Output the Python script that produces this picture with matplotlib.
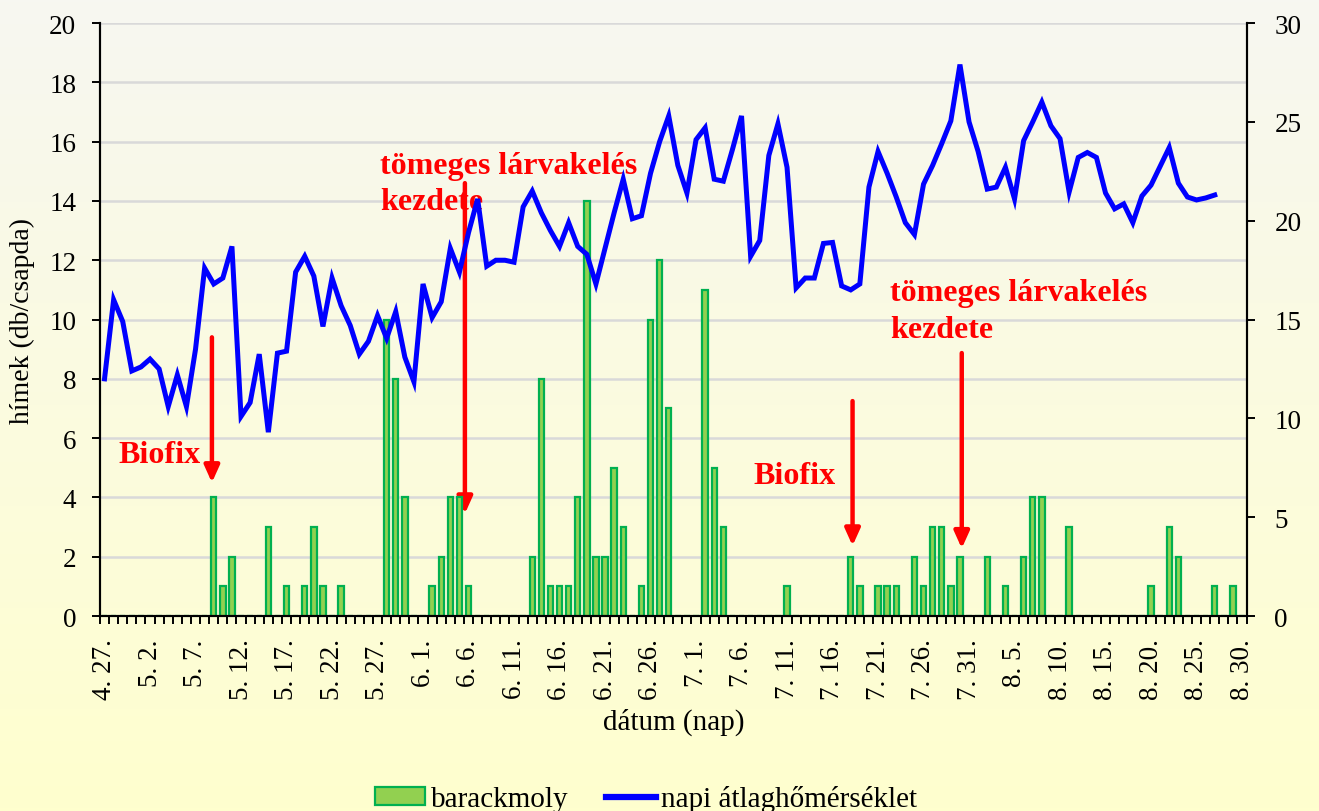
import numpy as np
import pandas as pd
import matplotlib
matplotlib.use('Agg')
import matplotlib.pyplot as plt
from matplotlib.patches import Patch
from matplotlib.lines import Line2D

plt.rcParams['font.family'] = ['Liberation Serif', 'DejaVu Serif']

# days 4.27 .. 8.30
days = pd.date_range('2013-04-27', '2013-08-30')

tick_labels = ["4. 27.", "5. 2.", "5. 7.", "5. 12.", "5. 17.", "5. 22.", "5. 27.",
               "6. 1.", "6. 6.", "6. 11.", "6. 16.", "6. 21.", "6. 26.", "7. 1.",
               "7. 6.", "7. 11.", "7. 16.", "7. 21.", "7. 26.", "7. 31.", "8. 5.",
               "8. 10.", "8. 15.", "8. 20.", "8. 25.", "8. 30."]

# barackmoly catches (males per trap)
catch_dates = ["05-09", "05-10", "05-11", "05-15", "05-17", "05-19", "05-20", "05-21",
               "05-23", "05-28", "05-29", "05-30", "06-02", "06-03", "06-04", "06-05",
               "06-06", "06-13", "06-14", "06-15", "06-16", "06-17", "06-18", "06-19",
               "06-20", "06-21", "06-22", "06-23", "06-25", "06-26", "06-27", "06-28",
               "07-02", "07-03", "07-04", "07-11", "07-18", "07-19", "07-21", "07-22",
               "07-23", "07-25", "07-26", "07-27", "07-28", "07-29", "07-30", "08-02",
               "08-04", "08-06", "08-07", "08-08", "08-11", "08-20", "08-22", "08-23",
               "08-27", "08-29"]
catch_counts = [4, 1, 2, 3, 1, 1, 3, 1,
                1, 10, 8, 4, 1, 2, 4, 4,
                1, 2, 8, 1, 1, 1, 4, 14,
                2, 2, 5, 3, 1, 10, 12, 7,
                11, 5, 3, 1, 2, 1, 1, 1,
                1, 2, 1, 3, 3, 1, 2, 2,
                1, 2, 4, 4, 3, 1, 3, 2,
                1, 1]

# napi átlaghőmérséklet, 4.27 .. 8.27
temps = [12.0, 16.0, 14.9, 12.4, 12.6, 13.0, 12.5, 10.6, 12.2, 10.6,
         13.5, 17.6, 16.8, 17.1, 18.7, 10.1, 10.8, 13.25, 9.3, 13.3,
         13.4, 17.4, 18.2, 17.2, 14.65, 17.1, 15.7, 14.7, 13.25, 13.9,
         15.2, 14.05, 15.4, 13.1, 11.85, 16.8, 15.1, 15.9, 18.6, 17.4,
         19.4, 21.1, 17.7, 18.0, 18.0, 17.9, 20.7, 21.5, 20.4, 19.5,
         18.7, 19.9, 18.7, 18.3, 16.8, 18.6, 20.4, 22.1, 20.1, 20.25,
         22.4, 24.0, 25.3, 22.8, 21.4, 24.1, 24.7, 22.1, 22.0, 23.6,
         25.3, 18.2, 19.0, 23.3, 24.9, 22.7, 16.6, 17.1, 17.1, 18.85,
         18.9, 16.7, 16.5, 16.8, 21.7, 23.5, 22.4, 21.2, 19.9, 19.3,
         21.85, 22.8, 23.9, 25.05, 27.9, 25.0, 23.5, 21.6, 21.7, 22.7,
         21.1, 24.05, 25.0, 26.0, 24.8, 24.15, 21.45, 23.2, 23.45, 23.2,
         21.4, 20.6, 20.85, 19.9, 21.25, 21.8, 22.75, 23.7, 21.9, 21.2,
         21.05, 21.15, 21.3]

day_keys = list(days.strftime('%m-%d'))
counts = np.zeros(len(days))
for d, c in zip(catch_dates, catch_counts):
    counts[day_keys.index(d)] = c
x = np.arange(len(days))

fig = plt.figure(figsize=(13.19, 8.12), dpi=100)

# background gradient
bg = fig.add_axes([0, 0, 1, 1], zorder=-5)
top = np.array([247, 247, 241]) / 255
bot = np.array([255, 255, 206]) / 255
t = np.linspace(0, 1, 256)[:, None]
grad = top[None, :] * (1 - t) + bot[None, :] * t
bg.imshow(grad[:, None, :], aspect='auto', extent=[0, 1, 0, 1])
bg.axis('off')

ax = fig.add_axes([0.0758, 0.2401, 0.8693, 0.7303])
ax.set_facecolor('none')
ax.bar(x, counts, width=0.6, color='#92D050', edgecolor='#00B050', linewidth=1.6, zorder=2)
ax.set_ylim(0, 20)
ax.set_xlim(-0.5, len(days) - 0.5)
ax.set_yticks(np.arange(0, 21, 2))
ax.yaxis.grid(True, color='#D9D9D9', linewidth=1.8, zorder=0)
ax.set_axisbelow(True)

ax.set_xticks(x[::5])
ax.set_xticklabels(tick_labels, rotation=90, fontsize=19.5)
ax.set_xticks(np.arange(-0.5, len(days), 1), minor=True)
ax.tick_params(axis='x', which='major', length=0, pad=16)
ax.tick_params(axis='x', which='minor', length=6, width=1.4, direction='out')
ax.tick_params(axis='y', length=6, width=1.4, labelsize=19.5, pad=11)
ax.set_ylabel('hímek (db/csapda)', fontsize=20, labelpad=10)
ax.set_xlabel('dátum (nap)', fontsize=21, labelpad=6)

ax2 = ax.twinx()
ax2.plot(x[:len(temps)], temps, color='#0000FF', linewidth=3.6, solid_joinstyle='miter', zorder=3)
ax2.set_ylim(0, 30)
ax2.set_yticks(np.arange(0, 31, 5))
ax2.tick_params(axis='y', length=6, width=1.4, labelsize=19.5, pad=14)

for a in (ax, ax2):
    a.spines['top'].set_visible(False)
    for s in ('left', 'right', 'bottom'):
        a.spines[s].set_linewidth(1.5)

# arrows and notes
red = '#FF0000'
arrows = [(11.8, 9.4, 4.5), (39.6, 14.6, 3.45), (82.2, 7.25, 2.37), (94.2, 8.87, 2.28)]
for ax_x, y0, y1 in arrows:
    ax.annotate('', xy=(ax_x, y1), xytext=(ax_x, y0),
                arrowprops=dict(arrowstyle='-|>,head_length=10,head_width=4.5',
                                mutation_scale=1, color=red, lw=3.2,
                                shrinkA=0, shrinkB=0), zorder=1)

note_kw = dict(color=red, fontsize=23, fontweight='bold', zorder=1)
ax.text(30.3, 15.7, 'tömeges lárvakelés\nkezdete', va='top', ha='left', linespacing=1.35, **note_kw)
ax.text(86.3, 11.4, 'tömeges lárvakelés\nkezdete', va='top', ha='left', linespacing=1.35, **note_kw)
ax.text(1.5, 5.46, 'Biofix', va='center', ha='left', **note_kw)
ax.text(71.3, 4.73, 'Biofix', va='center', ha='left', **note_kw)

handles = [Patch(facecolor='#92D050', edgecolor='#00B050', linewidth=1.6),
           Line2D([0], [0], color='#0000FF', linewidth=4.5)]
fig.legend(handles, ['barackmoly', 'napi átlaghőmérséklet'], loc='center',
           bbox_to_anchor=(0.49, 0.015), ncol=2, frameon=False, fontsize=21,
           handlelength=1.7, handleheight=0.6, columnspacing=1.3, handletextpad=0.2)

fig.savefig('out.png', dpi=100)
